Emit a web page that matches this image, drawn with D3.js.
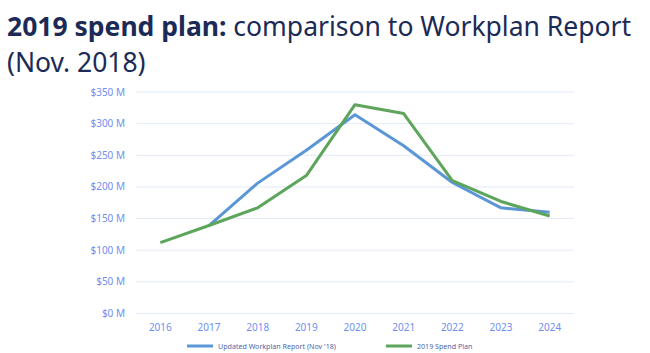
<!DOCTYPE html>
<meta charset="utf-8">
<script src="https://cdn.jsdelivr.net/npm/d3@7"></script>
<style>
  body { margin: 0; background: #fff; }
  svg { display: block; font-family: "Noto Sans", sans-serif; }
</style>
<body>
<script>

var width = 650
var height = 353

var years = ["2016", "2017", "2018", "2019", "2020", "2021", "2022", "2023", "2024"]
var workplan = [null, 139, 206, 258, 314, 265, 207, 167, 160]
var spendPlan = [112, 139, 167, 218, 330, 316, 210, 177, 154]
var yTicks = [0, 50, 100, 150, 200, 250, 300, 350]
var seriesNames = ["Updated Workplan Report (Nov '18)", "2019 Spend Plan"]
var seriesColors = ["#5b96d6", "#5ca55a"]

var x = d3.scaleBand().domain(years).range([136, 574])
var y = d3.scaleLinear().domain([0, 350]).range([313.5, 92])

var svg = d3.select("body").append("svg")
    .attr("width", width)
    .attr("height", height)

// title
var title = svg.append("text")
    .attr("x", 7)
    .attr("y", 35.5)
    .style("font-size", "26.5px")
    .style("fill", "#1b2a56")
title.append("tspan").style("font-weight", "bold").text("2019 spend plan:")
title.append("tspan").text(" comparison to Workplan Report")

svg.append("text")
    .attr("x", 7)
    .attr("y", 72)
    .style("font-size", "26.5px")
    .style("fill", "#1b2a56")
    .text("(Nov. 2018)")

// gridlines
svg.append("g").selectAll("line")
    .data(yTicks)
    .enter().append("line")
    .attr("x1", 136)
    .attr("x2", 574)
    .attr("y1", function(d) { return y(d) })
    .attr("y2", function(d) { return y(d) })
    .attr("stroke", "#e3eaf8")
    .attr("stroke-width", 1)

// y labels
svg.append("g").selectAll("text")
    .data(yTicks)
    .enter().append("text")
    .attr("x", 125)
    .attr("y", function(d) { return y(d) + 3.5 })
    .style("text-anchor", "end")
    .style("font-size", "10px")
    .style("fill", "#6f8ff0")
    .text(function(d) { return "$" + d + " M" })

// x labels
svg.append("g").selectAll("text")
    .data(years)
    .enter().append("text")
    .attr("x", function(d) { return x(d) + x.bandwidth() / 2 })
    .attr("y", 331)
    .style("text-anchor", "middle")
    .style("font-size", "10px")
    .style("fill", "#6f8ff0")
    .text(function(d) { return d })

var line = d3.line()
    .defined(function(d) { return d != null })
    .x(function(d, i) { return x(years[i]) + x.bandwidth() / 2 })
    .y(function(d) { return y(d) })

;[workplan, spendPlan].forEach(function(s, i) {
  svg.append("path")
      .attr("d", line(s))
      .attr("fill", "none")
      .attr("stroke", seriesColors[i])
      .attr("stroke-width", 3)
      .attr("stroke-linejoin", "round")
})

// legend
var legendX = [187, 386]
seriesNames.forEach(function(n, i) {
  svg.append("line")
      .attr("x1", legendX[i])
      .attr("x2", legendX[i] + 26)
      .attr("y1", 346)
      .attr("y2", 346)
      .attr("stroke", seriesColors[i])
      .attr("stroke-width", 3)
  svg.append("text")
      .attr("x", legendX[i] + 31)
      .attr("y", 349)
      .style("font-size", "7.1px")
      .style("fill", "#4e66a8")
      .text(n)
})

</script>
</body>
